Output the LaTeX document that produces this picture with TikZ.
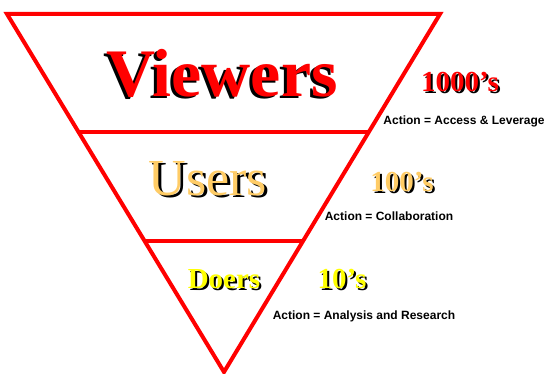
\documentclass[tikz,border=0pt]{standalone}
\usepackage{fontspec}
\setmainfont{Liberation Serif}
\newfontfamily\actionfont{Liberation Sans}
\definecolor{userorange}{HTML}{FFCC66}
\definecolor{doeryellow}{HTML}{FFFF00}
% coloured text over a black shadow shifted by #1
\newcommand{\shadowed}[3]{\makebox[0pt][l]{\kern#1\raisebox{-1.5pt}{\textcolor{black}{#3}}}\textcolor{#2}{#3}}
\begin{document}
\begin{tikzpicture}[x=1pt,y=-1pt,%
% common options for the level titles:
title/.style = {anchor=base, inner sep=0, font=\fontsize{#1}{#1}\selectfont\bfseries},
% common options for the counts:
count/.style = {anchor=base, inner sep=0, font=\fontsize{29}{29}\selectfont\bfseries},
% common options for the action lines:
action/.style = {anchor=base, inner sep=0, font=\fontsize{12}{12}\selectfont\actionfont\bfseries},
% common options for the funnel:
funnel/.style = {draw=red, line width=4pt, line join=miter}]
\useasboundingbox (0,0) rectangle (547,374);
\coordinate (TL) at (7,14);
\coordinate (TR) at (440,14);
\coordinate (Tip) at (224,372);
\coordinate (L1) at (78.5,132);
\coordinate (R1) at (368.8,132);
\coordinate (L2) at (144.6,241);
\coordinate (R2) at (303,241);
\draw[funnel] (TL) -- (TR) -- (Tip) -- cycle;
\draw[funnel] (L1) -- (R1);
\draw[funnel] (L2) -- (R2);
% viewers
\node[title=68] (V0) at (222,97) {\shadowed{-3pt}{red}{Viewers}};
\node[count] (V1) at (460,92) {\shadowed{2pt}{red}{1000’s}};
\node[action] (V2) at (464,125) {Action = Access \& Leverage};
% users
\node[title=52, font=\fontsize{52}{52}\selectfont\mdseries] (U0) at (208,196) {\shadowed{3pt}{userorange}{Users}};
\node[count] (U1) at (402,192) {\shadowed{2pt}{userorange}{100’s}};
\node[action] (U2) at (389,221) {Action = Collaboration};
% doers
\node[count] (D0) at (224,289) {\shadowed{2pt}{doeryellow}{Doers}};
\node[count] (D1) at (342,289) {\shadowed{2pt}{doeryellow}{10’s}};
\node[action] (D2) at (364,320) {Action = Analysis and Research};
\end{tikzpicture}
\end{document}
